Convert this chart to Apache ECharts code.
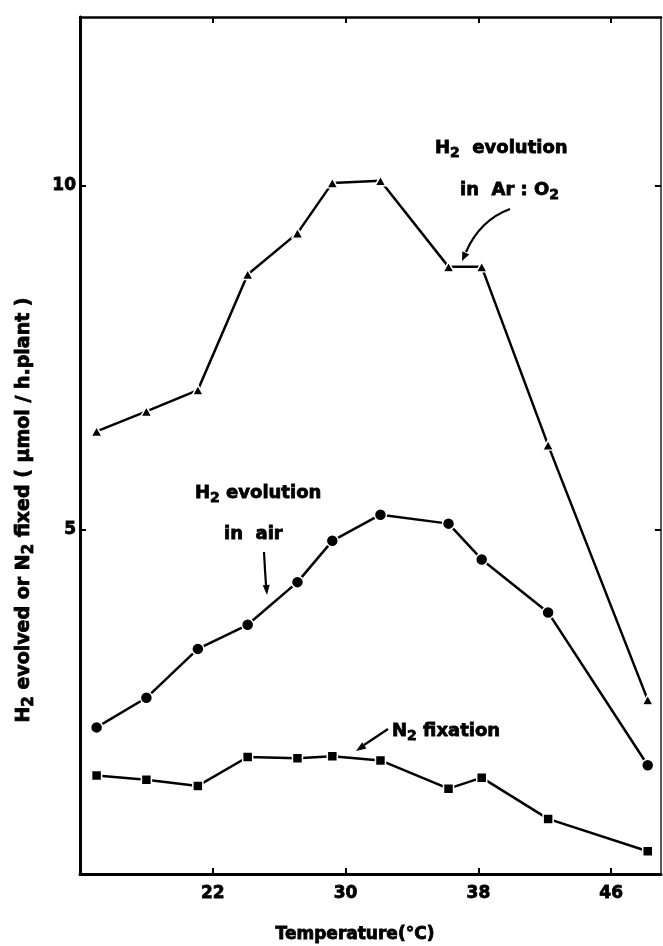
<!DOCTYPE html>
<html><head><meta charset="utf-8">
<script src="https://cdn.jsdelivr.net/npm/echarts@6/dist/echarts.min.js"></script>
<style>html,body{margin:0;padding:0;background:#fff}#c{width:663px;height:946px}</style>
</head><body><div id="c"></div>
<script>
// ---- data ----
const temperatures = [15, 18, 21.1, 24.1, 27.1, 29.2, 32.1, 36.2, 38.2, 42.2, 48.2];
const h2EvolutionArO2 = [6.43, 6.72, 7.03, 8.71, 9.31, 10.04, 10.07, 8.82, 8.82, 6.23, 2.53];
const h2EvolutionAir = [2.13, 2.56, 3.27, 3.62, 4.24, 4.84, 5.22, 5.09, 4.57, 3.80, 1.58];
const n2Fixation = [1.43, 1.37, 1.28, 1.70, 1.68, 1.71, 1.65, 1.24, 1.40, 0.80, 0.33];
const xTickValues = [22, 30, 38, 46];
const yTickValues = [5, 10];

const FONT = '"DejaVu Sans", "Liberation Sans", sans-serif';
const chart = echarts.init(document.getElementById('c'), null, {renderer: 'canvas'});

function pairs(vals) { return temperatures.map((t, i) => [t, vals[i]]); }

function lineSeries(name, vals, symbol, size) {
  return {
    name, type: 'line', data: pairs(vals), symbol, symbolSize: size,
    lineStyle: {color: '#000', width: 2.5},
    itemStyle: {color: '#000', borderColor: '#fff', borderWidth: 1.5},
    emphasis: {disabled: true}, animation: false, z: 3
  };
}

function arrowHead(tip, from, len, half) {
  const dx = tip[0] - from[0], dy = tip[1] - from[1];
  const d = Math.sqrt(dx * dx + dy * dy);
  const ux = dx / d, uy = dy / d;
  const bx = tip[0] - ux * len, by = tip[1] - uy * len;
  return [tip, [bx - uy * half, by + ux * half], [bx + uy * half, by - ux * half]];
}

function subText(x, y, parts, size, rotation) {
  return {
    type: 'text', x, y, rotation: rotation || 0, z: 10,
    style: {
      text: parts, align: rotation ? 'center' : 'left', verticalAlign: 'middle',
      fill: '#000',
      rich: {
        m: {fontFamily: FONT, fontWeight: 'bold', fontSize: size, lineHeight: size + 6, fill: '#000', stroke: '#000', lineWidth: 0.8},
        s: {fontFamily: FONT, fontWeight: 'bold', fontSize: size - 4, lineHeight: size - 4, verticalAlign: 'bottom', fill: '#000', stroke: '#000', lineWidth: 0.8}
      }
    }
  };
}

const axisBase = {
  type: 'value', splitLine: {show: false}
};

const tickLabelStyle = {fontSize: 17, fontWeight: 'bold', color: '#000', fontFamily: FONT, textBorderColor: '#000', textBorderWidth: 0.8};

const option = {
  backgroundColor: '#fff',
  animation: false,
  grid: {left: 80, right: 2, top: 17, bottom: 72, containLabel: false},
  xAxis: [
    Object.assign({}, axisBase, {
      min: 14, max: 49, position: 'bottom',
      axisLine: {show: true, onZero: false, lineStyle: {color: '#000', width: 3}},
      axisTick: {show: true, inside: true, length: 6, customValues: xTickValues, lineStyle: {color: '#000', width: 2}},
      axisLabel: Object.assign({show: true, customValues: xTickValues, margin: 11}, tickLabelStyle)
    }),
    Object.assign({}, axisBase, {
      min: 14, max: 49, position: 'top',
      axisLine: {show: true, onZero: false, lineStyle: {color: '#000', width: 2.5}},
      axisTick: {show: true, inside: true, length: 6, customValues: xTickValues, lineStyle: {color: '#000', width: 2}},
      axisLabel: {show: false}
    })
  ],
  yAxis: [
    Object.assign({}, axisBase, {
      min: 0, max: 12.45, position: 'left',
      axisLine: {show: true, onZero: false, lineStyle: {color: '#000', width: 3}},
      axisTick: {show: true, inside: true, length: 6, customValues: yTickValues, lineStyle: {color: '#000', width: 2}},
      axisLabel: Object.assign({show: true, customValues: yTickValues, margin: 4}, tickLabelStyle)
    }),
    Object.assign({}, axisBase, {
      min: 0, max: 12.45, position: 'right',
      axisLine: {show: true, onZero: false, lineStyle: {color: '#222', width: 1.5}},
      axisTick: {show: true, inside: true, length: 6, customValues: yTickValues, lineStyle: {color: '#000', width: 2}},
      axisLabel: {show: false}
    })
  ],
  series: [
    lineSeries('H2 evolution in Ar:O2', h2EvolutionArO2, 'triangle', [11, 10]),
    lineSeries('H2 evolution in air', h2EvolutionAir, 'circle', 12),
    lineSeries('N2 fixation', n2Fixation, 'rect', 10)
  ],
  graphic: []
};

// annotations (text + arrows)
const g = [];
g.push(subText(435, 148, '{m|H}{s|2}{m|  evolution}', 18));
g.push(subText(460, 190, '{m|in  Ar : O}{s|2}', 18));
g.push(subText(195, 493, '{m|H}{s|2}{m| evolution}', 18));
g.push(subText(224, 534, '{m|in  air}', 18));
g.push(subText(392, 731, '{m|N}{s|2}{m| fixation}', 18));
g.push(subText(24, 510, '{m|H}{s|2}{m| evolved or N}{s|2}{m| fixed ( µmol / h.plant )}', 19, Math.PI / 2));
g.push({type: 'text', x: 355, y: 935, z: 10, style: {text: 'Temperature(°C)', align: 'center', verticalAlign: 'middle', fontFamily: FONT, fontWeight: 'bold', fontSize: 17, fill: '#000', stroke: '#000', lineWidth: 0.8}});

// Ar:O2 arrow (curved)
g.push({type: 'bezierCurve', z: 10, shape: {x1: 510, y1: 209, x2: 466, y2: 252, cpx1: 480, cpy1: 220}, style: {stroke: '#000', lineWidth: 2.2, fill: null}});
g.push({type: 'polygon', z: 10, shape: {points: arrowHead([462, 261], [468, 248], 9, 3.8)}, style: {fill: '#000'}});
// air arrow
g.push({type: 'polyline', z: 10, shape: {points: [[264, 552], [265, 570], [266, 585]]}, style: {stroke: '#000', lineWidth: 2.2, fill: null}});
g.push({type: 'polygon', z: 10, shape: {points: arrowHead([267, 595], [266, 582], 10, 3.5)}, style: {fill: '#000'}});
// N2 arrow
g.push({type: 'line', z: 10, shape: {x1: 388, y1: 729, x2: 364, y2: 745}, style: {stroke: '#000', lineWidth: 2.2}});
g.push({type: 'polygon', z: 10, shape: {points: arrowHead([356, 751], [368, 743], 10, 3.8)}, style: {fill: '#000'}});

option.graphic = g;
chart.setOption(option);
</script>
</body></html>
